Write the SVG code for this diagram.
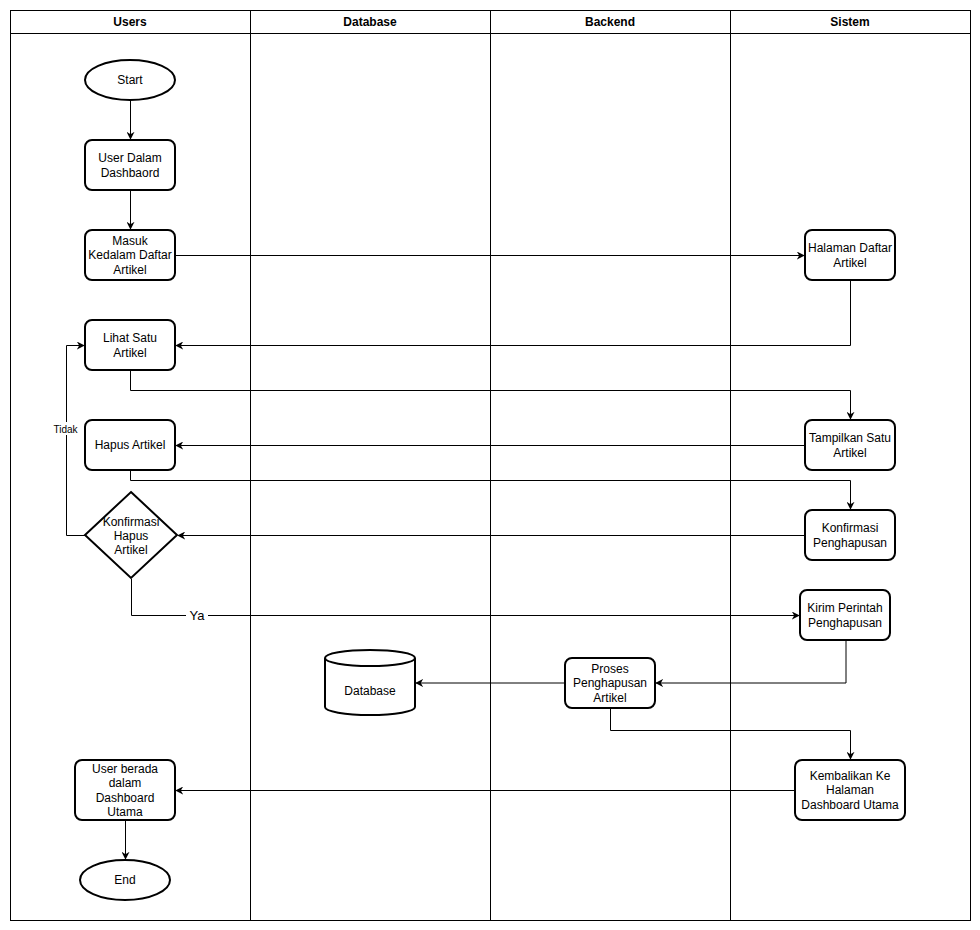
<svg xmlns="http://www.w3.org/2000/svg" width="980" height="930" viewBox="0 0 980 930">
  <style>
    .lane { fill: none; stroke: #000; stroke-width: 1; }
    .head { font-family: "Liberation Sans", Arial, sans-serif; font-size: 12px; font-weight: bold; text-anchor: middle; fill: #000; }
    .box { fill: #fff; stroke: #000; stroke-width: 2; }
    .lbl { font-family: "Liberation Sans", Arial, sans-serif; font-size: 12px; text-anchor: middle; fill: #000; }
    .edge { fill: none; stroke: #000; stroke-width: 1; }
    .elbl { font-family: "Liberation Sans", Arial, sans-serif; text-anchor: middle; fill: #000; }
  </style>
  <defs>
    <marker id="arrow" viewBox="0 0 10 10" refX="9" refY="5" markerWidth="8" markerHeight="8" markerUnits="userSpaceOnUse" orient="auto">
      <path d="M0,0 L10,5 L0,10 L3,5 Z" fill="#000"/>
    </marker>
  </defs>

  <rect width="980" height="930" fill="#fff"/>

  <!-- swimlanes -->
  <g id="lanes">
    <rect class="lane" x="10.5" y="10.5" width="960" height="910"/>
    <line class="lane" x1="10" y1="33.5" x2="970" y2="33.5"/>
    <line class="lane" x1="250.5" y1="10" x2="250.5" y2="920"/>
    <line class="lane" x1="490.5" y1="10" x2="490.5" y2="920"/>
    <line class="lane" x1="730.5" y1="10" x2="730.5" y2="920"/>
    <text class="head" x="130" y="26">Users</text>
    <text class="head" x="370" y="26">Database</text>
    <text class="head" x="610" y="26">Backend</text>
    <text class="head" x="850" y="26">Sistem</text>
  </g>

  <!-- connectors -->
  <g id="connectors">
    <path class="edge" d="M130.5,101 L130.5,139" marker-end="url(#arrow)"/>
    <path class="edge" d="M130.5,191 L130.5,229" marker-end="url(#arrow)"/>
    <path class="edge" d="M176,255.5 L804,255.5" marker-end="url(#arrow)"/>
    <path class="edge" d="M850.5,281 L850.5,345.5 L176,345.5" marker-end="url(#arrow)"/>
    <path class="edge" d="M130.5,371 L130.5,390.5 L850.5,390.5 L850.5,419" marker-end="url(#arrow)"/>
    <path class="edge" d="M804,445.5 L176,445.5" marker-end="url(#arrow)"/>
    <path class="edge" d="M130.5,471 L130.5,480.5 L850.5,480.5 L850.5,509" marker-end="url(#arrow)"/>
    <path class="edge" d="M804,535.5 L178,535.5" marker-end="url(#arrow)"/>
    <path class="edge" d="M85,535.5 L66.5,535.5 L66.5,345.5 L84,345.5" marker-end="url(#arrow)"/>
    <path class="edge" d="M131.5,579 L131.5,615.5 L799,615.5" marker-end="url(#arrow)"/>
    <path class="edge" d="M846,641 L846,683 L656,683" marker-end="url(#arrow)"/>
    <path class="edge" d="M564,683 L416,683" marker-end="url(#arrow)"/>
    <path class="edge" d="M610.5,709 L610.5,730.5 L850.5,730.5 L850.5,759" marker-end="url(#arrow)"/>
    <path class="edge" d="M794,790.5 L176,790.5" marker-end="url(#arrow)"/>
    <path class="edge" d="M125.5,821 L125.5,859" marker-end="url(#arrow)"/>
    <rect x="51" y="422" width="29" height="13" fill="#fff"/>
    <text class="elbl" x="65.5" y="432.5" font-size="10">Tidak</text>
    <rect x="186" y="607" width="22" height="16" fill="#fff"/>
    <text class="elbl" x="197" y="620" font-size="13">Ya</text>
  </g>

  <!-- Users lane -->
  <g id="start">
    <ellipse class="box" cx="130" cy="80" rx="45" ry="20"/>
    <text class="lbl" x="130" y="84">Start</text>
  </g>
  <g id="user-dalam-dashboard">
    <rect class="box" x="85" y="140" width="90" height="50" rx="7"/>
    <text class="lbl" x="130" y="161.5">User Dalam</text>
    <text class="lbl" x="130" y="176.5">Dashbaord</text>
  </g>
  <g id="masuk-daftar-artikel">
    <rect class="box" x="85" y="230" width="90" height="50" rx="7"/>
    <text class="lbl" x="130" y="244.5">Masuk</text>
    <text class="lbl" x="130" y="259">Kedalam Daftar</text>
    <text class="lbl" x="130" y="273.5">Artikel</text>
  </g>
  <g id="lihat-satu-artikel">
    <rect class="box" x="85" y="320" width="90" height="50" rx="7"/>
    <text class="lbl" x="130" y="341.5">Lihat Satu</text>
    <text class="lbl" x="130" y="356.5">Artikel</text>
  </g>
  <g id="hapus-artikel">
    <rect class="box" x="85" y="420" width="90" height="50" rx="7"/>
    <text class="lbl" x="130" y="449">Hapus Artikel</text>
  </g>
  <g id="konfirmasi-hapus-artikel">
    <polygon class="box" points="131,492 177,535 131,578 85,535"/>
    <text class="lbl" x="131" y="525.5">Konfirmasi</text>
    <text class="lbl" x="131" y="539.5">Hapus</text>
    <text class="lbl" x="131" y="553.5">Artikel</text>
  </g>
  <g id="user-dashboard-utama">
    <rect class="box" x="75" y="760" width="100" height="60" rx="7"/>
    <text class="lbl" x="125" y="772.5">User berada</text>
    <text class="lbl" x="125" y="787">dalam</text>
    <text class="lbl" x="125" y="801.5">Dashboard</text>
    <text class="lbl" x="125" y="816">Utama</text>
  </g>
  <g id="end">
    <ellipse class="box" cx="125" cy="880" rx="45" ry="20"/>
    <text class="lbl" x="125" y="884">End</text>
  </g>

  <!-- Database lane -->
  <g id="database">
    <path class="box" d="M325,658 L325,707 A45,8 0 0 0 415,707 L415,658 A45,8 0 0 0 325,658 Z"/>
    <path class="box" d="M325,658 A45,8 0 0 0 415,658" fill="none"/>
    <text class="lbl" x="370" y="694.5">Database</text>
  </g>

  <!-- Backend lane -->
  <g id="proses-penghapusan">
    <rect class="box" x="565" y="658" width="90" height="50" rx="7"/>
    <text class="lbl" x="610" y="672.5">Proses</text>
    <text class="lbl" x="610" y="687">Penghapusan</text>
    <text class="lbl" x="610" y="701.5">Artikel</text>
  </g>

  <!-- Sistem lane -->
  <g id="halaman-daftar-artikel">
    <rect class="box" x="805" y="230" width="90" height="50" rx="7"/>
    <text class="lbl" x="850" y="251.5">Halaman Daftar</text>
    <text class="lbl" x="850" y="266.5">Artikel</text>
  </g>
  <g id="tampilkan-satu-artikel">
    <rect class="box" x="805" y="420" width="90" height="50" rx="7"/>
    <text class="lbl" x="850" y="441.5">Tampilkan Satu</text>
    <text class="lbl" x="850" y="456.5">Artikel</text>
  </g>
  <g id="konfirmasi-penghapusan">
    <rect class="box" x="805" y="510" width="90" height="50" rx="7"/>
    <text class="lbl" x="850" y="531.5">Konfirmasi</text>
    <text class="lbl" x="850" y="546.5">Penghapusan</text>
  </g>
  <g id="kirim-perintah">
    <rect class="box" x="800" y="590" width="90" height="50" rx="7"/>
    <text class="lbl" x="845" y="611.5">Kirim Perintah</text>
    <text class="lbl" x="845" y="626.5">Penghapusan</text>
  </g>
  <g id="kembalikan-dashboard">
    <rect class="box" x="795" y="760" width="110" height="60" rx="7"/>
    <text class="lbl" x="850" y="779.5">Kembalikan Ke</text>
    <text class="lbl" x="850" y="794">Halaman</text>
    <text class="lbl" x="850" y="808.5">Dashboard Utama</text>
  </g>
</svg>
